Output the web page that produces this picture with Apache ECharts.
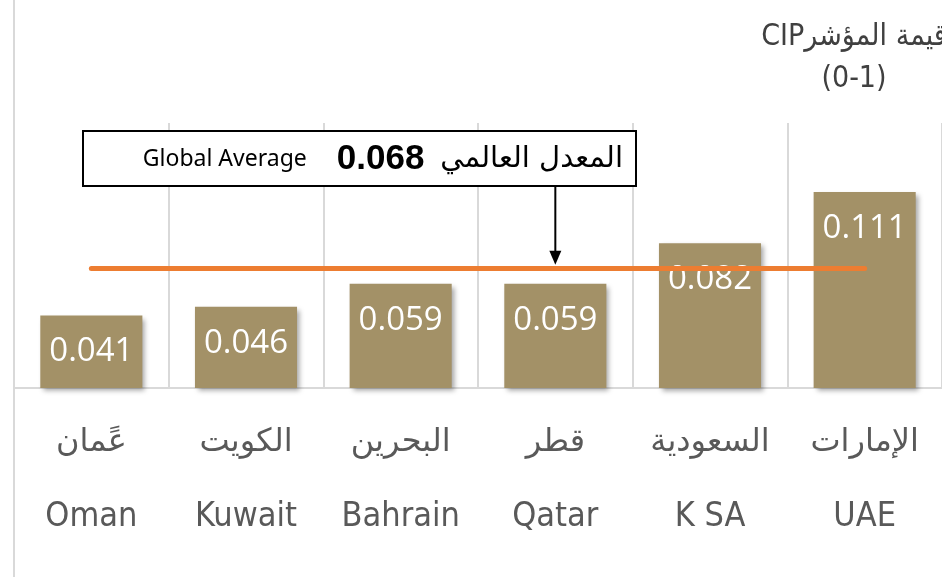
<!DOCTYPE html>
<html>
<head>
<meta charset="utf-8">
<script src="https://cdn.jsdelivr.net/npm/echarts@6/dist/echarts.min.js"></script>
<style>
  html, body { margin: 0; padding: 0; background: #fff; }
  #main { width: 942px; height: 577px; }
</style>
</head>
<body>
<div id="main"></div>
<script>
// data
var categoriesEn = ['Oman', 'Kuwait', 'Bahrain', 'Qatar', 'K SA', 'UAE'];
var categoriesAr = ['عًمان', 'الكويت', 'البحرين', 'قطر', 'السعودية', 'الإمارات'];
var cipValues = [0.041, 0.046, 0.059, 0.059, 0.082, 0.111];
var globalAverage = [0.068];
var arrowTarget = ['Qatar'];

var chart = echarts.init(document.getElementById('main'), null, { renderer: 'canvas' });

var condensed = '"DejaVu Sans Condensed", "Liberation Sans Narrow", "DejaVu Sans"';

var option = {
    animation: false,
    backgroundColor: '#ffffff',
    title: {
        text: 'CIPقيمة المؤشر\n(0-1)',
        left: 849,
        top: 11,
        textAlign: 'center',
        textStyle: {
            fontFamily: condensed,
            fontWeight: 'normal',
            fontSize: 30,
            lineHeight: 42,
            color: '#404040'
        }
    },
    grid: {
        left: 14,
        right: -7,
        top: 123,
        bottom: 189
    },
    xAxis: {
        type: 'category',
        data: categoriesEn,
        axisLine: { lineStyle: { color: '#d9d9d9', width: 2 } },
        axisTick: { show: false },
        splitLine: { show: true, lineStyle: { color: '#d9d9d9', width: 2 } },
        axisLabel: {
            margin: 18,
            interval: 0,
            formatter: function (v, i) {
                return '{ar|' + categoriesAr[i] + '}\n{en|' + v + '}';
            },
            rich: {
                ar: {
                    fontFamily: '"DejaVu Sans"',
                    fontSize: 32,
                    lineHeight: 74,
                    color: '#595959'
                },
                en: {
                    fontFamily: condensed,
                    fontSize: 34,
                    lineHeight: 74,
                    color: '#595959'
                }
            }
        }
    },
    yAxis: {
        type: 'value',
        min: 0,
        max: 0.15,
        show: false,
        splitLine: { show: false }
    },
    series: [{
        type: 'bar',
        data: cipValues,
        barWidth: '66%',
        itemStyle: {
            color: '#a39167',
            shadowColor: 'rgba(0,0,0,0.35)',
            shadowBlur: 5,
            shadowOffsetX: 3,
            shadowOffsetY: 3
        },
        label: {
            show: true,
            position: 'insideTop',
            distance: 20,
            color: '#ffffff',
            fontFamily: '"Open Sans"',
            fontSize: 33,
            formatter: function (p) { return p.value.toFixed(3); }
        },
        markLine: {
            silent: true,
            symbol: 'none',
            label: { show: false },
            lineStyle: { color: '#ed7d31', width: 5, type: 'solid', cap: 'round' },
            data: [[
                { coord: [categoriesEn[0], globalAverage[0]] },
                { coord: [categoriesEn[categoriesEn.length - 1], globalAverage[0]] }
            ]]
        }
    }]
};
chart.setOption(option);

// annotation box + arrow pointing at the average line
var tip = chart.convertToPixel({ gridIndex: 0 }, [arrowTarget[0], globalAverage[0]]);
var boxTop = 131, boxBottom = 186;
chart.setOption({
    graphic: [
        {
            type: 'line',
            shape: { x1: 14, y1: 0, x2: 14, y2: 577 },
            style: { stroke: '#d9d9d9', lineWidth: 2 }
        },
        {
            type: 'rect',
            shape: { x: 83, y: boxTop, width: 553, height: boxBottom - boxTop },
            style: { fill: '#ffffff', stroke: '#000000', lineWidth: 2 },
            z: 100
        },
        {
            type: 'text',
            x: 623,
            y: (boxTop + boxBottom) / 2 + 1,
            z: 101,
            style: {
                text: '{en|Global Average}{num|' + globalAverage[0].toFixed(3) + '}{ar|المعدل العالمي}',
                align: 'right',
                verticalAlign: 'middle',
                rich: {
                    en: { fontFamily: '"Noto Sans"', fontSize: 23, fill: '#000', padding: [0, 30, 0, 0] },
                    num: { fontFamily: '"Liberation Sans"', fontWeight: 'bold', fontSize: 35, fill: '#000', padding: [0, 16, 0, 0] },
                    ar: { fontFamily: '"DejaVu Sans"', fontSize: 29, fill: '#000' }
                }
            }
        },
        {
            type: 'line',
            shape: { x1: tip[0], y1: boxBottom, x2: tip[0], y2: tip[1] - 12 },
            style: { stroke: '#000', lineWidth: 2 },
            z: 100
        },
        {
            type: 'polygon',
            shape: { points: [[tip[0] - 6, tip[1] - 17], [tip[0] + 6, tip[1] - 17], [tip[0], tip[1] - 3]] },
            style: { fill: '#000' },
            z: 100
        }
    ]
});
</script>
</body>
</html>
